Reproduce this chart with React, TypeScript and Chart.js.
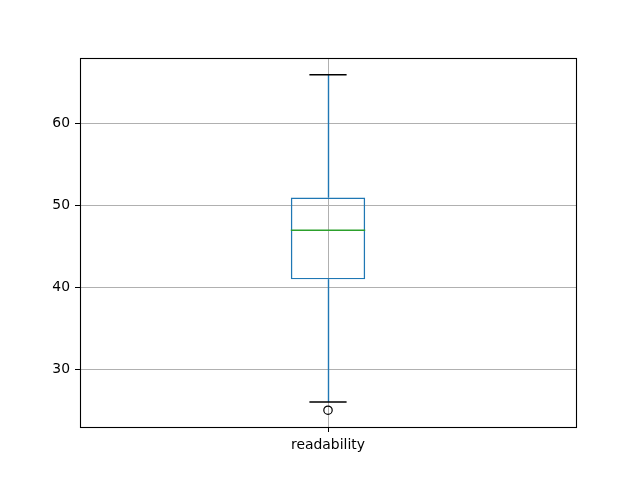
import React, { useEffect, useRef } from "react";
import { Chart, registerables } from "chart.js";

Chart.register(...registerables);

const categories = ["readability"];
const q1 = [41];
const median = [47];
const q3 = [51];
const whiskerLow = [26];
const whiskerHigh = [66];
const outliers = [25];
const yTicks = [30, 40, 50, 60];
const yMin = 22.95;
const yMax = 68.05;

const BLUE = "#1f77b4";
const GREEN = "#2ca02c";
const FONT = "'DejaVu Sans', sans-serif";

const boxPlugin = {
  id: "boxExtras",
  afterDatasetsDraw(chart: any) {
    const ctx = chart.ctx;
    const yScale = chart.scales.y;
    const meta = chart.getDatasetMeta(0);
    meta.data.forEach((bar: any, i: number) => {
      const x = bar.x;
      const w = bar.width;
      const left = x - w / 2;
      const right = x + w / 2;
      const yQ1 = yScale.getPixelForValue(q1[i]);
      const yQ3 = yScale.getPixelForValue(q3[i]);
      const yMed = yScale.getPixelForValue(median[i]);
      const yLo = yScale.getPixelForValue(whiskerLow[i]);
      const yHi = yScale.getPixelForValue(whiskerHigh[i]);
      const xc = Math.round(x) + 0.5;
      ctx.save();
      ctx.lineWidth = 1.4;
      ctx.strokeStyle = BLUE;
      ctx.beginPath();
      ctx.moveTo(xc, yQ3);
      ctx.lineTo(xc, yHi);
      ctx.moveTo(xc, yQ1);
      ctx.lineTo(xc, yLo);
      ctx.stroke();
      ctx.strokeStyle = "#000";
      ctx.beginPath();
      ctx.moveTo(x - w / 4, yHi);
      ctx.lineTo(x + w / 4, yHi);
      ctx.moveTo(x - w / 4, yLo);
      ctx.lineTo(x + w / 4, yLo);
      ctx.stroke();
      ctx.strokeStyle = GREEN;
      ctx.beginPath();
      ctx.moveTo(left, yMed);
      ctx.lineTo(right, yMed);
      ctx.stroke();
      ctx.restore();
    });
  },
  afterDraw(chart: any) {
    const { left, right, top, bottom } = chart.chartArea;
    const ctx = chart.ctx;
    ctx.save();
    ctx.strokeStyle = "#000";
    ctx.lineWidth = 1.1;
    ctx.strokeRect(left + 0.5, top + 0.5, right - left, bottom - top);
    ctx.restore();
  },
};

export default function App() {
  const ref = useRef<HTMLCanvasElement>(null);
  useEffect(() => {
    document.body.style.margin = "0";
    const chart = new Chart(ref.current as HTMLCanvasElement, {
      type: "bar",
      data: {
        labels: categories,
        datasets: [
          {
            type: "bar",
            data: categories.map((_, i) => [q1[i], q3[i]]) as any,
            backgroundColor: "rgba(0,0,0,0)",
            borderColor: BLUE,
            borderWidth: 1.4,
            borderSkipped: false,
            barPercentage: 0.15,
            categoryPercentage: 1,
          } as any,
          {
            type: "line",
            data: outliers,
            showLine: false,
            pointStyle: "circle",
            pointRadius: 4.2,
            pointBorderWidth: 1.2,
            pointBorderColor: "#000",
            pointBackgroundColor: "rgba(0,0,0,0)",
          } as any,
        ],
      },
      options: {
        responsive: false,
        animation: false,
        layout: { padding: { left: 0, top: 58, right: 64, bottom: 0 } },
        plugins: { legend: { display: false }, tooltip: { enabled: false } },
        scales: {
          x: {
            offset: true,
            grid: {
              offset: false,
              color: "#b0b0b0",
              lineWidth: 1,
              tickColor: "#000",
              tickLength: 5,
            },
            border: { display: false },
            ticks: { color: "#000", padding: 5, font: { family: FONT, size: 13.9 } },
            afterFit: (s: any) => {
              s.height = 53;
            },
          },
          y: {
            min: yMin,
            max: yMax,
            grid: { color: "#b0b0b0", lineWidth: 1, tickColor: "#000", tickLength: 5 },
            border: { display: false },
            ticks: { color: "#000", padding: 5, font: { family: FONT, size: 13.9 } },
            afterBuildTicks: (s: any) => {
              s.ticks = yTicks.map((v) => ({ value: v }));
            },
            afterFit: (s: any) => {
              s.width = 80;
            },
          },
        },
      },
      plugins: [boxPlugin],
    });
    return () => chart.destroy();
  }, []);
  return (
    <div style={{ width: 640, height: 480 }}>
      <canvas ref={ref} width={640} height={480} />
    </div>
  );
}
